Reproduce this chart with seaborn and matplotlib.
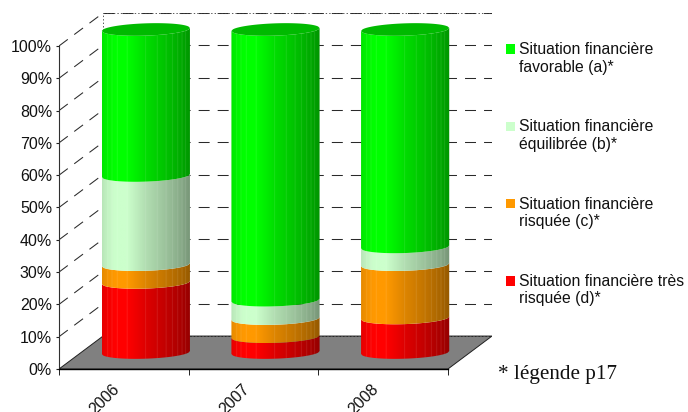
import numpy as np
import matplotlib
matplotlib.use("Agg")
import matplotlib.pyplot as plt
from matplotlib.colors import to_rgb
from matplotlib.patches import Patch, PathPatch, Polygon
from matplotlib.path import Path
from matplotlib.transforms import Affine2D
import seaborn as sns

years = ["2006", "2007", "2008"]
red = [21.7, 4.9, 10.7]
orange = [5.5, 5.6, 16.5]
pale = [27.6, 5.7, 5.5]
green = [45.2, 83.8, 67.3]
series_names = ["Situation financière très\nrisquée (d)*",
                "Situation financière\nrisquée (c)*",
                "Situation financière\néquilibrée (b)*",
                "Situation financière\nfavorable (a)*"]
series_values = [red, orange, pale, green]
series_colors = ["#FF0000", "#FF9900", "#CCFFCC", "#00FF00"]
y_ticks = list(range(0, 101, 10))
note = "* légende p17"

sns.set_theme(style="white")
plt.rcParams["font.family"] = ["Liberation Sans", "DejaVu Sans"]
plt.rcParams["lines.scale_dashes"] = False

W, H = 688, 412
fig = plt.figure(figsize=(W / 100, H / 100), dpi=100)
ax = fig.add_axes([59 / W, 1 - 369 / H, 433 / W, 356 / H])
ax.set_facecolor("none")

# depth of the fake 3-D box, in data units
depth_x, depth_y = 0.34, 10.2
bar_width = 0.68
arc = 1.9       # half height of an ellipse
tilt = 0.46     # slope of an ellipse

bottom = np.zeros(len(years))
n0 = 0
segments = []
for name, vals, col in zip(series_names, series_values, series_colors):
    sns.barplot(x=years, y=vals, bottom=bottom, color=col, saturation=1,
                width=bar_width, ax=ax, zorder=3, linewidth=0)
    new = ax.patches[n0:]
    n0 = len(ax.patches)
    for p in new:
        segments.append((p, col))
    bottom = bottom + np.array(vals)

ax.set_xlim(-0.5, 2.5 + depth_x)
ax.set_ylim(0, 100 + depth_y)
to_mid = Affine2D().translate(depth_x / 2, depth_y / 2) + ax.transData

# cylinder shading profile: smooth ramp with faint seams at unequal spacing
cols = 352
pos = np.linspace(0, 1, cols)
edges = np.array([0, .06, .11, .17, .28, .49, .62, .72, .79, .85, .90, .94, 1.0])
shade_steps = np.interp(pos, [0, .06, .14, .28, .49, .72, .90, 1.0],
                        [.90, .95, 1.0, 1.0, .87, .76, .66, .58])
seams = np.zeros(cols, dtype=bool)
for e in edges[1:-1]:
    i = int(e * (cols - 1))
    seams[i:i + 3] = True


def strip(color):
    rgb = np.array(to_rgb(color))
    img = np.outer(shade_steps, rgb)
    img[seams] = img[seams] * 0.88 + 0.12
    return img[np.newaxis, :, :]


def arc_pts(cx, w, v, tt):
    return np.c_[cx + tt * w / 2, v - arc * np.sqrt(1 - tt ** 2) + tilt * tt]


tt = np.linspace(-1, 1, 60)
for p, col in segments:
    p.set_transform(to_mid)
    x0, w = p.get_x(), p.get_width()
    cx = x0 + w / 2
    lo, hi = p.get_y(), p.get_y() + p.get_height()
    verts = np.r_[arc_pts(cx, w, hi, tt), arc_pts(cx, w, lo, tt[::-1])]
    clip = PathPatch(Path(np.r_[verts, verts[:1]]), transform=to_mid,
                     facecolor="none", edgecolor="none")
    ax.add_patch(clip)
    im = ax.imshow(strip(col), extent=(x0, x0 + w, lo - 6, hi + 6),
                   aspect="auto", interpolation="antialiased", zorder=3 + lo * 0.01,
                   transform=to_mid)
    im.set_clip_path(clip)
    p.set_visible(False)

# top cap of each cylinder
for p, col in segments[-len(years):]:
    x0, w = p.get_x(), p.get_width()
    cx, top = x0 + w / 2, p.get_y() + p.get_height()
    low = arc_pts(cx, w, top, tt)
    up = np.c_[low[:, 0], top + arc * np.sqrt(1 - tt ** 2) + tilt * tt]
    ax.add_patch(Polygon(np.r_[low, up[::-1]], closed=True, transform=to_mid,
                         facecolor="#00BA00", edgecolor="none", zorder=6))

ax.set_xlim(-0.5, 2.5 + depth_x)
ax.set_ylim(0, 100 + depth_y)

# floor
ax.add_patch(Polygon([(-0.5, 0), (2.5, 0), (2.5 + depth_x, depth_y), (-0.5 + depth_x, depth_y)],
                     closed=True, facecolor="#808080", edgecolor="#202020", linewidth=0.7, zorder=1))

# walls and grid
dash = (0, (7.9, 5.8))
grid_col = "#2A2A2A"
for v in y_ticks[1:]:
    ax.plot([-0.5, -0.5 + depth_x], [v, v + depth_y], color=grid_col, lw=0.75, ls=dash, zorder=2)
    ax.plot([-0.5 + depth_x, 2.5 + depth_x], [v + depth_y] * 2, color=grid_col, lw=0.75, ls=dash, zorder=2)
dot = (0, (1.0, 1.5))
ax.plot([-0.5 + depth_x] * 2, [depth_y, 100 + depth_y], color="#404040", lw=0.6, ls=dot, zorder=2)
ax.plot([2.5 + depth_x] * 2, [depth_y, 100 + depth_y], color="#404040", lw=0.6, ls=dot, zorder=2)
ax.plot([-0.5 + depth_x, 2.5 + depth_x], [100 + depth_y] * 2, color="#404040", lw=0.6, ls=dot, zorder=2)
ax.plot([-0.5 + depth_x, 2.5 + depth_x], [depth_y] * 2, color="#202020", lw=0.6, ls=dot, zorder=2)

# axes
for s in ["top", "right"]:
    ax.spines[s].set_visible(False)
ax.spines["bottom"].set_bounds(-0.5, 2.5)
ax.spines["left"].set_bounds(0, 100)
ax.spines["bottom"].set_color("black")
ax.spines["bottom"].set_linewidth(1.0)
ax.spines["left"].set_color("#303030")
ax.spines["left"].set_linewidth(0.8)
ax.spines["left"].set_linestyle((0, (1.2, 0.8)))

ax.set_yticks(y_ticks)
ax.set_yticklabels([f"{v}%" for v in y_ticks], fontsize=11.5, color="#111111")
ax.tick_params(axis="y", left=True, length=2, width=0.8, color="#222222", pad=3)
ax.set_xticks([-0.5, 0.5, 1.5, 2.5])
ax.set_xticklabels([])
ax.tick_params(axis="x", which="major", bottom=True, length=4.5, width=0.7, color="#222222")
ax.set_xticks([0, 1, 2], minor=True)
ax.set_xticklabels(years, minor=True, rotation=45, ha="right", rotation_mode="anchor",
                   fontsize=11.5, color="#111111")
ax.tick_params(axis="x", which="minor", bottom=False, length=0, pad=9)
for lab in ax.get_xticklabels(minor=True):
    lab.set_transform(lab.get_transform() + Affine2D().translate(-12, 0))
ax.set_xlabel("")
ax.set_ylabel("")

handles = [Patch(facecolor=c, edgecolor="none") for c in series_colors[::-1]]
leg = fig.legend(handles, series_names[::-1], loc="upper left", bbox_to_anchor=(503 / W, 1 - 39 / H),
                 frameon=False, fontsize=11.3, labelspacing=2.86, handlelength=0.57, handleheight=0.57,
                 handletextpad=0.24, borderpad=0.2, borderaxespad=0, labelcolor="#111111")
for txt in leg.get_texts():
    txt.set_linespacing(1.2)
for r in leg.legend_handles:
    r.set_y(r.get_y() + 7.0)

fig.text(498 / W, 1 - 379 / H, note, family="Liberation Serif", fontsize=15.2, color="#111111")

fig.savefig("out.png", dpi=100)
